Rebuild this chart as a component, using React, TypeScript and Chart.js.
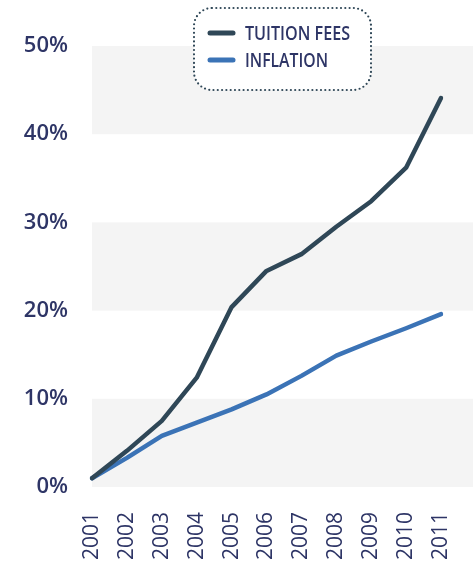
import React, { useEffect, useRef } from "react";
import { Chart, registerables } from "chart.js";

Chart.register(...registerables);

const years = ["2001", "2002", "2003", "2004", "2005", "2006", "2007", "2008", "2009", "2010", "2011"];
const tuitionFees = [1.0, 4.1, 7.5, 12.4, 20.4, 24.5, 26.4, 29.5, 32.4, 36.2, 44.1];
const inflation = [1.0, 3.3, 5.8, 7.3, 8.8, 10.5, 12.6, 14.9, 16.5, 18.0, 19.6];
const seriesNames = ["TUITION FEES", "INFLATION"];
const seriesColors = ["#2f4757", "#3b73b6"];
const bandRanges = [[0, 10], [20, 30], [40, 50]];

const TEXT = "#2e3566";

const bandsPlugin = {
  id: "bands",
  beforeDatasetsDraw(chart: any) {
    const { ctx, chartArea, scales } = chart;
    const y = scales.y;
    ctx.save();
    ctx.fillStyle = "#f4f4f4";
    bandRanges.forEach(([a, b]) => {
      const top = y.getPixelForValue(b);
      const bot = y.getPixelForValue(a);
      ctx.fillRect(chartArea.left, top, chart.width - chartArea.left, bot - top);
    });
    ctx.restore();
  },
};

function roundRect(ctx: CanvasRenderingContext2D, x: number, y: number, w: number, h: number, r: number) {
  ctx.beginPath();
  ctx.moveTo(x + r, y);
  ctx.lineTo(x + w - r, y);
  ctx.arcTo(x + w, y, x + w, y + r, r);
  ctx.lineTo(x + w, y + h - r);
  ctx.arcTo(x + w, y + h, x + w - r, y + h, r);
  ctx.lineTo(x + r, y + h);
  ctx.arcTo(x, y + h, x, y + h - r, r);
  ctx.lineTo(x, y + r);
  ctx.arcTo(x, y, x + r, y, r);
  ctx.closePath();
}

const legendPlugin = {
  id: "customLegend",
  afterDraw(chart: any) {
    const ctx: CanvasRenderingContext2D = chart.ctx;
    ctx.save();
    roundRect(ctx, 194, 8, 177, 82, 18);
    ctx.fillStyle = "#ffffff";
    ctx.fill();
    ctx.setLineDash([0, 4.3]);
    ctx.lineCap = "round";
    ctx.lineWidth = 2.2;
    ctx.strokeStyle = "#2f4757";
    ctx.stroke();
    ctx.setLineDash([]);
    const rows = [33, 60];
    const targetWidths = [105, 83];
    seriesNames.forEach((name, i) => {
      const yy = rows[i];
      ctx.beginPath();
      ctx.lineWidth = 5;
      ctx.lineCap = "round";
      ctx.strokeStyle = seriesColors[i];
      ctx.moveTo(210, yy);
      ctx.lineTo(233, yy);
      ctx.stroke();
      ctx.fillStyle = TEXT;
      ctx.font = "600 20px 'Open Sans', sans-serif";
      ctx.textBaseline = "middle";
      ctx.textAlign = "left";
      const w = ctx.measureText(name).width;
      const sx = Math.min(1, targetWidths[i] / w);
      ctx.save();
      ctx.translate(245, yy + 1);
      ctx.scale(sx, 1);
      ctx.fillText(name, 0, 0);
      ctx.restore();
    });
    ctx.restore();
  },
};

export default function App() {
  const ref = useRef<HTMLCanvasElement>(null);
  useEffect(() => {
    if (!ref.current) return;
    const chart = new Chart(ref.current, {
      type: "line",
      data: {
        labels: years,
        datasets: [
          {
            label: seriesNames[0],
            data: tuitionFees,
            borderColor: seriesColors[0],
            borderWidth: 4.5,
            pointRadius: 0,
            borderCapStyle: "round",
            borderJoinStyle: "round",
            tension: 0,
          },
          {
            label: seriesNames[1],
            data: inflation,
            borderColor: seriesColors[1],
            borderWidth: 4.5,
            pointRadius: 0,
            borderCapStyle: "round",
            borderJoinStyle: "round",
            tension: 0,
          },
        ],
      },
      options: {
        animation: false,
        responsive: true,
        maintainAspectRatio: false,
        layout: { padding: { top: 46, right: 32, left: 0, bottom: 0 } },
        plugins: { legend: { display: false }, tooltip: { enabled: false } },
        scales: {
          x: {
            offset: false,
            grid: { display: false },
            border: { display: false },
            ticks: {
              minRotation: 90,
              maxRotation: 90,
              padding: 17,
              color: TEXT,
              font: { family: "'Open Sans', sans-serif", size: 21, weight: "500" },
            },
            afterFit: (s: any) => {
              s.height = 77;
              s.paddingRight = 0;
              s.paddingLeft = 0;
            },
          },
          y: {
            min: 0,
            max: 50,
            grid: { display: false },
            border: { display: false },
            ticks: {
              stepSize: 10,
              padding: 16,
              color: TEXT,
              font: { family: "'Open Sans', sans-serif", size: 22, weight: "600" },
              callback: (v: any) => v + "%",
            },
            afterFit: (s: any) => {
              s.width = 92;
            },
          },
        },
      },
      plugins: [bandsPlugin, legendPlugin],
    });
    return () => chart.destroy();
  }, []);
  return (
    <div style={{ position: "absolute", left: 0, top: 0, width: 473, height: 564, background: "#fff" }}>
      <canvas ref={ref} style={{ display: "block" }} />
    </div>
  );
}
